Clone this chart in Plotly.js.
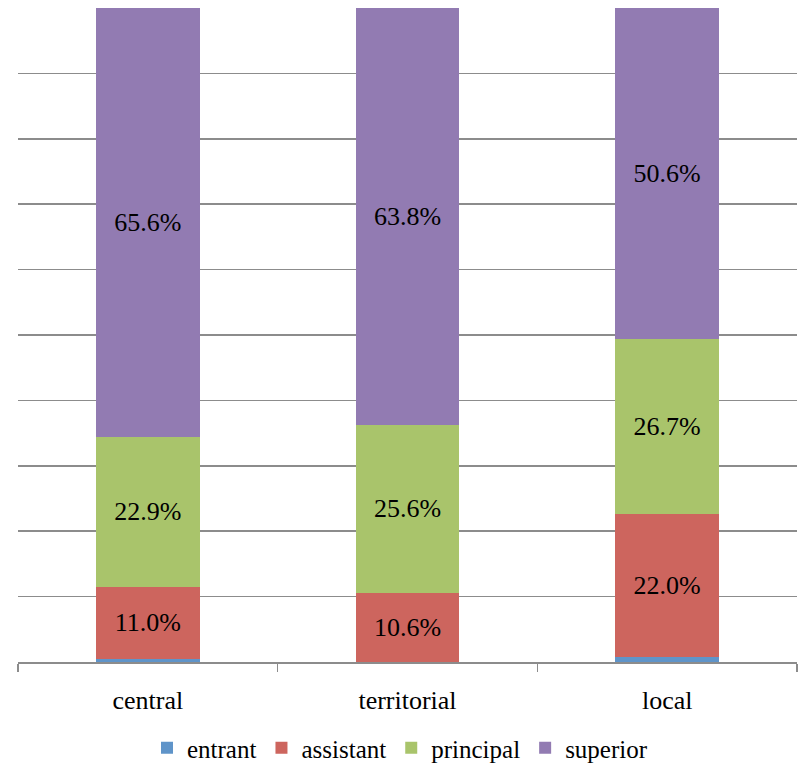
<!DOCTYPE html>
<html>
<head>
<meta charset="utf-8">
<script src="https://cdn.plot.ly/plotly-3.0.1.min.js"></script>
<style>html,body{margin:0;padding:0;background:#fff;}#chart{width:800px;height:771px;}</style>
</head>
<body>
<div id="chart"></div>
<script>
const categories = ["central", "territorial", "local"];
const seriesNames = ["entrant", "assistant", "principal", "superior"];
const entrant = [0.5, 0.0, 0.7];
const assistant = [11.0, 10.6, 22.0];
const principal = [22.9, 25.6, 26.7];
const superior = [65.6, 63.8, 50.6];
const colors = ["#5f94c9", "#cd655e", "#a9c46b", "#927bb2"];
const showLabels = [false, true, true, true];

const allSeries = [entrant, assistant, principal, superior];
const fontFam = "Liberation Serif, DejaVu Serif, serif";

const traces = allSeries.map((vals, i) => ({
  type: "bar",
  name: seriesNames[i],
  x: categories,
  y: vals,
  marker: {color: colors[i], line: {width: 0}},
  text: showLabels[i] ? vals.map(v => v.toFixed(1) + "%") : vals.map(() => ""),
  textposition: showLabels[i] ? "inside" : "none",
  insidetextanchor: "middle",
  textangle: 0,
  textfont: {family: fontFam, size: 26, color: "#000"},
  hoverinfo: "none"
}));

const layout = {
  width: 800, height: 771,
  margin: {l: 18, r: 3, t: 8, b: 109, autoexpand: false},
  barmode: "stack",
  bargap: 0.6,
  paper_bgcolor: "#fff",
  plot_bgcolor: "#fff",
  showlegend: true,
  legend: {
    orientation: "h", xref: "container", yref: "container",
    x: 0.5, xanchor: "center", y: 0.0, yanchor: "bottom",
    font: {family: fontFam, size: 25, color: "#000"},
    itemwidth: 30, tracegroupgap: 0, traceorder: "normal"
  },
  xaxis: {
    type: "category",
    showline: true, linecolor: "#8c8c8c", linewidth: 1.5,
    ticks: "outside", tickson: "boundaries", ticklen: 8, tickcolor: "#8c8c8c", tickwidth: 1.5,
    ticklabelstandoff: 14,
    tickfont: {family: fontFam, size: 26, color: "#000"},
    showgrid: false, zeroline: false
  },
  yaxis: {
    range: [0, 100], dtick: 10,
    showticklabels: false, showline: false,
    showgrid: true, gridcolor: "#8c8c8c", gridwidth: 1.5,
    zeroline: false, fixedrange: true
  }
};

Plotly.newPlot("chart", traces, layout, {displayModeBar: false, staticPlot: true});
</script>
</body>
</html>
